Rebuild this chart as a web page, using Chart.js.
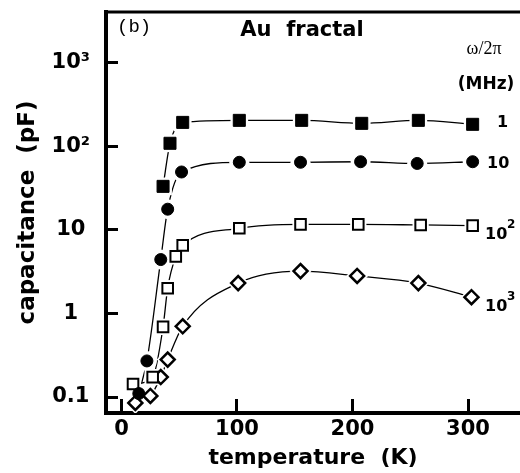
<!DOCTYPE html>
<html>
<head>
<meta charset="utf-8">
<script src="https://cdn.jsdelivr.net/npm/chart.js@4"></script>
<style>
  html, body { margin: 0; padding: 0; background: #fff; }
</style>
</head>
<body>
<canvas id="chart" width="520" height="473"></canvas>
<script>
// temperature (K) / capacitance (pF), one pair of arrays per frequency
const temps1 = [36, 42, 53, 102, 156, 208, 257, 304];
const cap1 = [33, 108, 192, 203, 203, 187, 203, 182];

const temps10 = [15, 22, 34, 40, 52, 102, 155, 207, 256, 304];
const cap10 = [0.11, 0.27, 4.4, 17.6, 49, 64, 64, 65, 62, 65];

const temps100 = [10, 27, 36, 40, 47, 53, 102, 155, 205, 259, 304];
const cap100 = [0.143, 0.173, 0.69, 2.0, 4.8, 6.5, 10.4, 11.6, 11.6, 11.4, 11.2];

const temps1000 = [12, 25, 34, 40, 53, 101, 155, 204, 257, 303];
const cap1000 = [0.085, 0.103, 0.173, 0.28, 0.70, 2.3, 3.2, 2.8, 2.3, 1.56];

const xTicks = [0, 100, 200, 300];
const yTicks = [0.1, 1, 10, 100, 1000];
const yTickLabels = ['0.1', '1', '10', '10²', '10³'];

const boldFont = 'DejaVu Sans';

// line, white halo (gap round marker), marker
function seriesSets(temps, caps, style, fill, radius, bw) {
    const pts = temps.map((t, i) => ({ x: t, y: caps[i] }));
    return [
        { data: pts, showLine: true, borderColor: '#000', borderWidth: 1.3,
          pointRadius: 0, cubicInterpolationMode: 'monotone', order: 3 },
        { data: pts, showLine: false, pointStyle: style, pointRadius: radius + 4,
          pointBackgroundColor: '#fff', pointBorderColor: '#fff', pointBorderWidth: 0, order: 2 },
        { data: pts, showLine: false, pointStyle: style, pointRadius: radius,
          pointBackgroundColor: fill, pointBorderColor: '#000', pointBorderWidth: bw, order: 1 }
    ];
}

const datasets = [].concat(
    seriesSets(temps1, cap1, 'rect', '#000', 8.5, 1),
    seriesSets(temps10, cap10, 'circle', '#000', 6, 1),
    seriesSets(temps100, cap100, 'rect', '#fff', 7.5, 2),
    seriesSets(temps1000, cap1000, 'rectRot', '#fff', 7, 2.5)
);

// axis sizes fixed by hand, no extra label padding
function noPad(s) {
    s.paddingTop = 0;
    s.paddingBottom = 0;
    s.paddingLeft = 0;
    s.paddingRight = 0;
}

const extras = {
    id: 'extras',
    afterDraw(chart) {
        const ctx = chart.ctx;
        const a = chart.chartArea;
        ctx.save();
        // top frame line
        ctx.strokeStyle = '#000';
        ctx.lineWidth = 3;
        ctx.beginPath();
        ctx.moveTo(a.left - 2, a.top);
        ctx.lineTo(a.right, a.top);
        ctx.stroke();

        ctx.fillStyle = '#000';
        ctx.textBaseline = 'middle';
        ctx.textAlign = 'left';
        ctx.font = '19px "Liberation Mono"';
        ctx.fillText('(b)', 117, 27);

        ctx.textAlign = 'center';
        ctx.font = 'bold 21px "' + boldFont + '"';
        ctx.fillText('Au  fractal', 302, 31);

        ctx.font = '18px "Liberation Serif"';
        ctx.fillText('ω/2π', 484, 49);
        ctx.font = 'bold 17px "' + boldFont + '"';
        ctx.fillText('(MHz)', 486, 85);

        // frequency labels at the right end of each curve
        ctx.textAlign = 'left';
        ctx.font = 'bold 16px "' + boldFont + '"';
        ctx.fillText('1', 497, 123);
        ctx.fillText('10', 487, 164);
        ctx.fillText('10', 485, 235);
        ctx.fillText('10', 485, 307);
        ctx.font = 'bold 12px "' + boldFont + '"';
        ctx.fillText('2', 507, 225);
        ctx.fillText('3', 507, 297);
        ctx.restore();
    }
};

new Chart(document.getElementById('chart'), {
    type: 'scatter',
    data: { datasets },
    options: {
        responsive: false,
        animation: false,
        events: [],
        layout: { autoPadding: false, padding: { top: 12, right: 0, left: 0, bottom: 0 } },
        plugins: { legend: { display: false }, tooltip: { enabled: false } },
        scales: {
            x: {
                type: 'linear',
                min: -13.4,
                max: 345,
                afterBuildTicks: s => { s.ticks = xTicks.map(v => ({ value: v })); },
                afterFit: s => { s.height = 60; noPad(s); },
                border: { display: true, width: 4, color: '#000' },
                grid: { drawOnChartArea: false, drawTicks: true, tickLength: -14, lineWidth: 3, color: '#000' },
                ticks: {
                    padding: 18, color: '#000', maxRotation: 0, autoSkip: false,
                    font: { family: boldFont, weight: 'bold', size: 21 }
                },
                title: {
                    display: true, text: 'temperature  (K)', color: '#000',
                    font: { family: boldFont, weight: 'bold', size: 22 },
                    padding: { top: 0, bottom: 2 }
                }
            },
            y: {
                type: 'logarithmic',
                min: 0.0644,
                max: 4009,
                afterBuildTicks: s => { s.ticks = yTicks.map(v => ({ value: v })); },
                afterFit: s => { s.width = 106; noPad(s); },
                border: { display: true, width: 4, color: '#000' },
                grid: { drawOnChartArea: false, drawTicks: true, tickLength: -12, lineWidth: 3, color: '#000' },
                ticks: {
                    padding: 28, crossAlign: 'center', color: '#000', autoSkip: false,
                    callback: (v, i) => yTickLabels[i],
                    font: { family: boldFont, weight: 'bold', size: 21 }
                },
                title: {
                    display: true, text: 'capacitance  (pF)', color: '#000',
                    font: { family: boldFont, weight: 'bold', size: 23 },
                    padding: { top: 14, bottom: 0 }
                }
            }
        }
    },
    plugins: [extras]
});
</script>
</body>
</html>
